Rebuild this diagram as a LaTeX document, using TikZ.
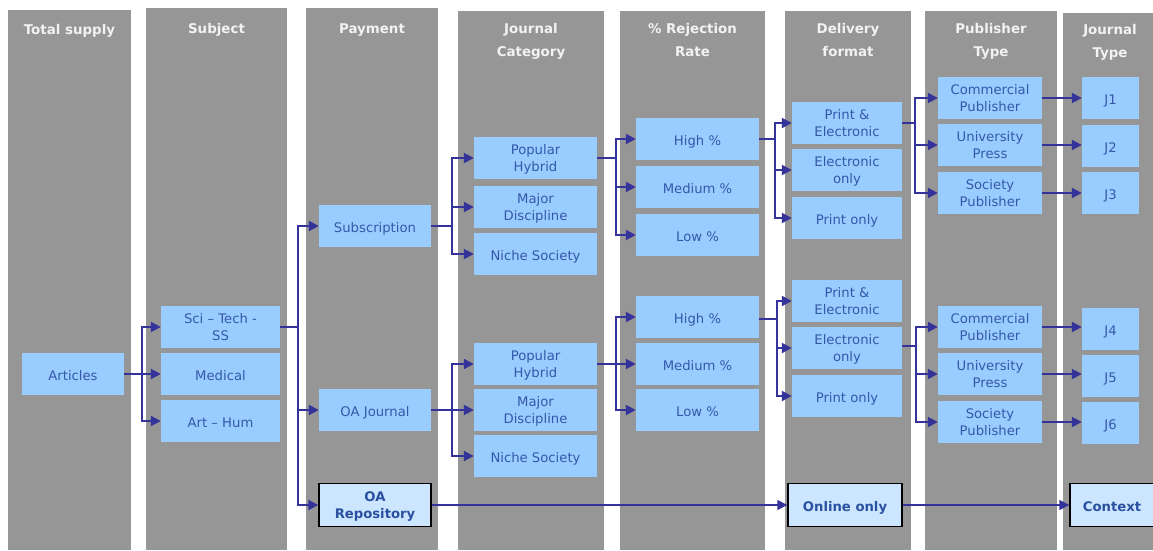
\documentclass[tikz,border=0pt]{standalone}
\usepackage{fontspec}
\setmainfont{DejaVu Sans}
\usetikzlibrary{arrows.meta}
\definecolor{colgray}{HTML}{969696}
\definecolor{boxblue}{HTML}{99CCFF}
\definecolor{boxpale}{HTML}{CCE6FF}
\definecolor{txtblue}{HTML}{3558AA}
\definecolor{txtdark}{HTML}{2A50A0}
\definecolor{navy}{HTML}{333399}
\definecolor{hdrtxt}{HTML}{F2F2F2}
\begin{document}
\begin{tikzpicture}[x=1pt,y=-1pt,
  col/.style={fill=colgray,draw=none},
  hdr/.style={text=hdrtxt,font=\fontsize{13.4}{23}\selectfont\bfseries,align=center,anchor=north,inner sep=0pt},
  box/.style={fill=boxblue,draw=none,text=txtblue,font=\fontsize{13.2}{16.8}\selectfont,align=center,inner sep=0pt,minimum height=42pt,text height=12.6pt,text depth=0pt},
  two/.style={text height=27.4pt,text depth=0pt},
  keybox/.style={fill=boxpale,draw=black,line width=1.4pt,text=txtdark,font=\fontsize{13.2}{16.8}\selectfont\bfseries,align=center,inner sep=0pt,minimum height=43pt,text height=12pt,text depth=0pt},
  arr/.style={draw=navy,line width=2pt,-{Triangle[length=10pt,width=10pt]}},
  thinarr/.style={draw=navy,line width=1.5pt,-{Triangle[length=10pt,width=10pt]}}
]
\fill[white] (0,0) rectangle (1153,550);
\useasboundingbox (0,0) rectangle (1153,550);

% column bands
\fill[col] (8,10) rectangle (131,550);
\fill[col] (146,8) rectangle (287,550);
\fill[col] (306,8) rectangle (438,550);
\fill[col] (458,11) rectangle (604,550);
\fill[col] (620,11) rectangle (765,550);
\fill[col] (785,11) rectangle (911,550);
\fill[col] (925,11) rectangle (1057,550);
\fill[col] (1063,13) rectangle (1153,550);

% column headings
\node[hdr] (h1) at (69.5,24.5) {Total supply};
\node[hdr] (h2) at (216.5,23.5) {Subject};
\node[hdr] (h3) at (372,23.5) {Payment};
\node[hdr] (h4) at (531,23.5) {Journal\\Category};
\node[hdr] (h5) at (692.5,23.5) {\% Rejection\\Rate};
\node[hdr] (h6) at (848,23.5) {Delivery\\format};
\node[hdr] (h7) at (991,23.5) {Publisher\\Type};
\node[hdr] (h8) at (1110,24.5) {Journal\\Type};

% total supply and subjects
\node[box,minimum width=102pt] (art) at (73,374) {Articles};
\node[box,two,minimum width=119pt] (sci) at (220.5,327) {Sci – Tech -\\SS};
\node[box,minimum width=119pt] (med) at (220.5,374) {Medical};
\node[box,minimum width=119pt] (hum) at (220.5,421) {Art – Hum};

% payment
\node[box,minimum width=112pt] (subs) at (375,226) {Subscription};
\node[box,minimum width=112pt] (oaj) at (375,410) {OA Journal};
\node[keybox,two,minimum width=112pt] (oar) at (375,505) {OA\\Repository};

% journal category
\node[box,two,minimum width=123pt] (ph1) at (535.5,158) {Popular\\Hybrid};
\node[box,two,minimum width=123pt] (md1) at (535.5,207) {Major\\Discipline};
\node[box,minimum width=123pt] (ns1) at (535.5,254) {Niche Society};
\node[box,two,minimum width=123pt] (ph2) at (535.5,364) {Popular\\Hybrid};
\node[box,two,minimum width=123pt] (md2) at (535.5,410) {Major\\Discipline};
\node[box,minimum width=123pt] (ns2) at (535.5,456) {Niche Society};

% rejection rate
\node[box,minimum width=123pt] (hi1) at (697.5,139) {High \%};
\node[box,minimum width=123pt] (me1) at (697.5,187) {Medium \%};
\node[box,minimum width=123pt] (lo1) at (697.5,235) {Low \%};
\node[box,minimum width=123pt] (hi2) at (697.5,317) {High \%};
\node[box,minimum width=123pt] (me2) at (697.5,364) {Medium \%};
\node[box,minimum width=123pt] (lo2) at (697.5,410) {Low \%};

% delivery format
\node[box,two,minimum width=110pt] (pe1) at (847,123) {Print \&\\Electronic};
\node[box,two,minimum width=110pt] (eo1) at (847,170) {Electronic\\only};
\node[box,minimum width=110pt] (po1) at (847,218) {Print only};
\node[box,two,minimum width=110pt] (pe2) at (847,301) {Print \&\\Electronic};
\node[box,two,minimum width=110pt] (eo2) at (847,348) {Electronic\\only};
\node[box,minimum width=110pt] (po2) at (847,396) {Print only};
\node[keybox,minimum width=114pt] (onl) at (845,505) {Online only};

% publisher type
\node[box,two,minimum width=104pt] (cp1) at (990,98) {Commercial\\Publisher};
\node[box,two,minimum width=104pt] (up1) at (990,145) {University\\Press};
\node[box,two,minimum width=104pt] (sp1) at (990,193) {Society\\Publisher};
\node[box,two,minimum width=104pt] (cp2) at (990,327) {Commercial\\Publisher};
\node[box,two,minimum width=104pt] (up2) at (990,374) {University\\Press};
\node[box,two,minimum width=104pt] (sp2) at (990,422) {Society\\Publisher};

% journal type
\node[box,minimum width=57pt] (j1) at (1110.5,98) {J1};
\node[box,minimum width=57pt] (j2) at (1110.5,146) {J2};
\node[box,minimum width=57pt] (j3) at (1110.5,193) {J3};
\node[box,minimum width=57pt] (j4) at (1110.5,329) {J4};
\node[box,minimum width=57pt] (j5) at (1110.5,376) {J5};
\node[box,minimum width=57pt] (j6) at (1110.5,423) {J6};
\node[keybox,minimum width=84pt] (ctx) at (1112,505) {Context};

% branching connectors
\foreach \t in {sci,med,hum} \draw[arr] (art.east) -- ++(18,0) |- (\t.west);
\foreach \t in {subs,oaj,oar} \draw[arr] (sci.east) -- ++(18,0) |- (\t.west);
\foreach \t in {ph1,md1,ns1} \draw[arr] (subs.east) -- ++(21,0) |- (\t.west);
\foreach \t in {ph2,md2,ns2} \draw[arr] (oaj.east) -- ++(21,0) |- (\t.west);
\foreach \t in {hi1,me1,lo1} \draw[arr] (ph1.east) -- ++(19,0) |- (\t.west);
\foreach \t in {hi2,me2,lo2} \draw[arr] (ph2.east) -- ++(19,0) |- (\t.west);
\foreach \t in {pe1,eo1,po1} \draw[arr] (hi1.east) -- ++(16,0) |- (\t.west);
\foreach \t in {pe2,eo2,po2} \draw[arr] ([yshift=-2pt]hi2.east) -- ++(18,0) |- (\t.west);
\foreach \t in {cp1,up1,sp1} \draw[arr] (pe1.east) -- ++(13,0) |- (\t.west);
\foreach \t in {cp2,up2,sp2} \draw[arr] ([yshift=2pt]eo2.east) -- ++(14,0) |- (\t.west);

% publisher to journal type
\draw[arr] (cp1.east) -- (cp1.east -| j1.west);
\draw[arr] (up1.east) -- (up1.east -| j2.west);
\draw[arr] (sp1.east) -- (sp1.east -| j3.west);
\draw[arr] (cp2.east) -- (cp2.east -| j4.west);
\draw[arr] (up2.east) -- (up2.east -| j5.west);
\draw[arr] (sp2.east) -- (sp2.east -| j6.west);

% repository route
\draw[thinarr] (oar.east) -- (onl.west);
\draw[thinarr] (onl.east) -- (ctx.west);
\end{tikzpicture}
\end{document}
